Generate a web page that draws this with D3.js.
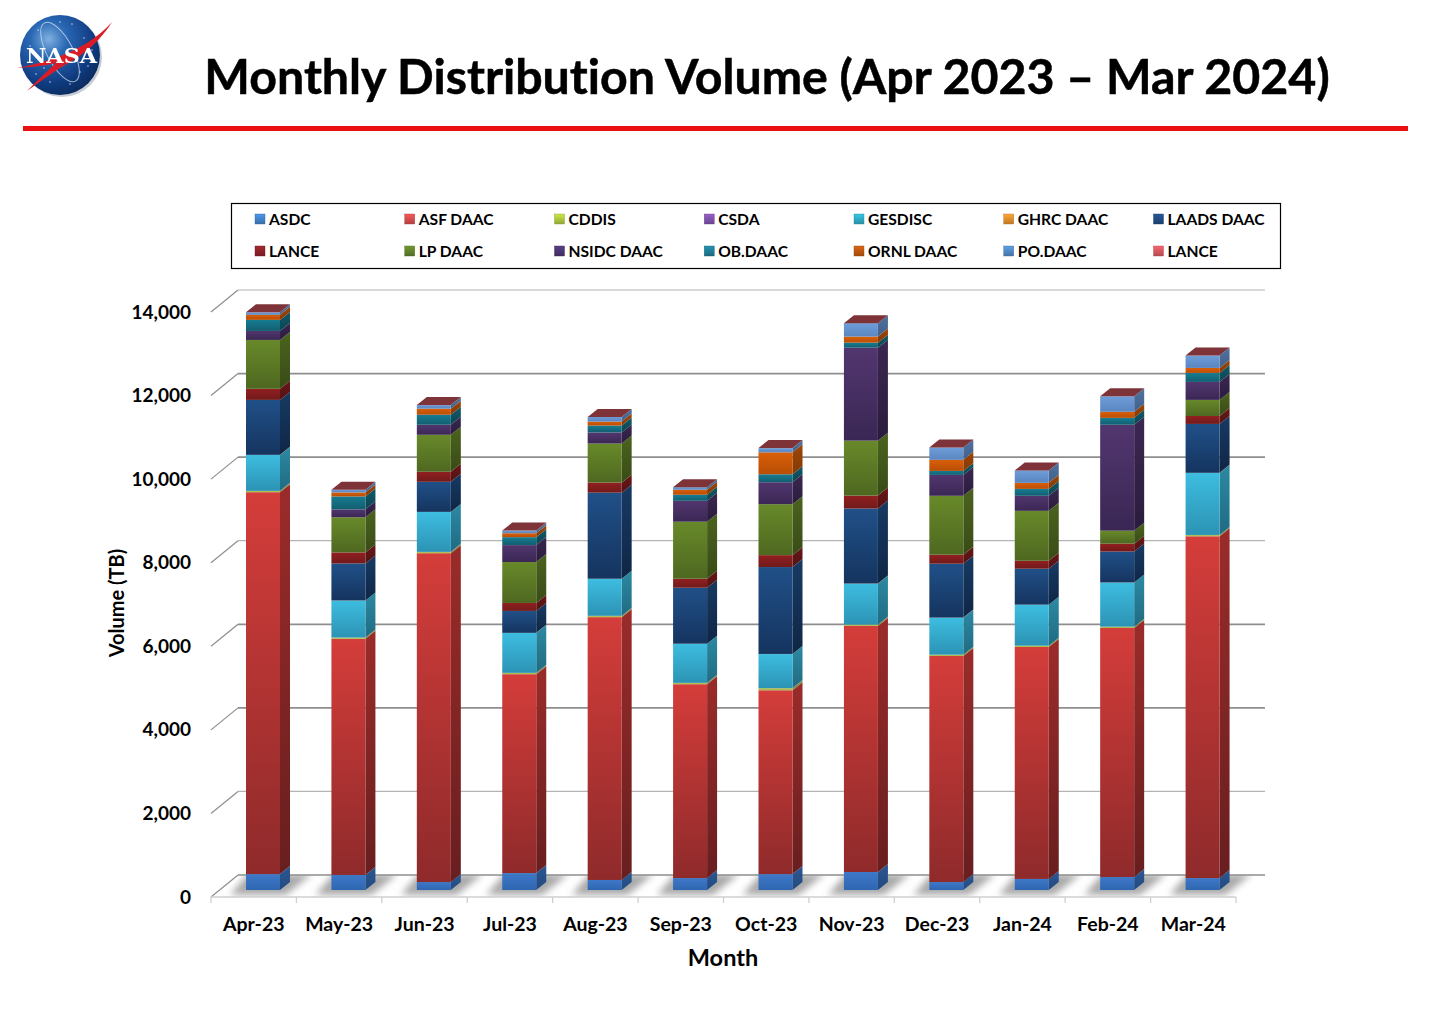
<!DOCTYPE html>
<html><head><meta charset="utf-8">
<script src="https://cdn.jsdelivr.net/npm/d3@7"></script>
<style>html,body{margin:0;padding:0;background:#fff}svg{display:block}text{font-family:Lato,Carlito,sans-serif;font-weight:700;fill:#000;font-variant-ligatures:none}</style>
</head><body><svg id="c" width="1436" height="1019"></svg>
<script>
const months=["Apr-23","May-23","Jun-23","Jul-23","Aug-23","Sep-23","Oct-23","Nov-23","Dec-23","Jan-24","Feb-24","Mar-24"];
const seriesNames=["ASDC","ASF DAAC","CDDIS","CSDA","GESDISC","GHRC DAAC","LAADS DAAC","LANCE","LP DAAC","NSIDC DAAC","OB.DAAC","ORNL DAAC","PO.DAAC","LANCE"];
const asdc=[380,360,190,405,240,285,380,430,190,265,310,285];
const asf=[9140,5650,7870,4760,6290,4640,4400,5890,5410,5550,5960,8180];
const cddis=[30,30,30,30,30,30,50,30,30,30,30,30];
const csda=[2,2,2,2,2,2,2,2,2,2,2,2];
const gesdisc=[860,885,955,955,885,935,815,980,885,980,1055,1485];
const ghrc=[2,2,2,2,2,2,2,2,2,2,2,2];
const laads=[1315,885,720,525,2060,1340,2080,1795,1290,860,740,1170];
const lance=[265,265,240,190,240,215,285,310,215,190,190,190];
const lp=[1170,840,885,980,935,1365,1220,1315,1410,1195,310,385];
const nsidc=[215,190,240,405,265,500,525,2225,500,360,2535,430];
const ob=[265,310,240,190,165,145,190,120,95,165,165,215];
const ornl=[120,95,145,95,95,120,525,145,265,145,145,120];
const po=[60,60,85,60,110,60,100,320,295,295,370,295];
const lance2=[2,2,2,2,2,2,2,2,2,2,2,2];
const yTicks=[0,2000,4000,6000,8000,10000,12000,14000];
const seriesValues=[asdc,asf,cddis,csda,gesdisc,ghrc,laads,lance,lp,nsidc,ob,ornl,po,lance2];
const topColors=["#3d78c8","#d43d3a","#b4c858","#7a55a8","#3dbde0","#ec9432","#205088","#921f20","#68892a","#52366f","#177c92","#d95f08","#6e9dd9","#7d3338"];
const botColors=["#2f66b0","#8f2a2b","#a5b84a","#63448c","#2c93b4","#d57f22","#15345f","#701a1b","#4e6820","#3a2754","#125e70","#b84e05","#5a86c0","#6c2a30"];
const legendColors=["#3f7fc4","#cf4a4a","#a8c23c","#7d50a8","#2ea6c0","#e08a2c","#1f4a80","#8a2226","#5f7f2a","#4a3470","#1f7a92","#b85510","#4f86c0","#d0555c"];

const svg=d3.select("#c"),defs=svg.append("defs");
const dx=10,dy=8,backDy=15,frontDy=7;
const x=d3.scaleBand().domain(months).range([211,1236]);
const y=d3.scaleLinear().domain([0,14000]).range([890,305]);
const barW=34,barOff=35;

/* ---- gradients ---- */
seriesNames.forEach((n,i)=>{
  const g=defs.append("linearGradient").attr("id","f"+i).attr("x1",0).attr("x2",0).attr("y1",0).attr("y2",1);
  g.append("stop").attr("offset",0).attr("stop-color",topColors[i]);
  g.append("stop").attr("offset",1).attr("stop-color",botColors[i]);
  const s=defs.append("linearGradient").attr("id","s"+i).attr("x1",0).attr("x2",0).attr("y1",0).attr("y2",1);
  s.append("stop").attr("offset",0).attr("stop-color",d3.color(topColors[i]).darker(.9));
  s.append("stop").attr("offset",1).attr("stop-color",d3.color(botColors[i]).darker(.9));
  const l=defs.append("linearGradient").attr("id","l"+i).attr("x1",0).attr("x2",0).attr("y1",0).attr("y2",1);
  l.append("stop").attr("offset",0).attr("stop-color",d3.color(legendColors[i]).brighter(.5));
  l.append("stop").attr("offset",1).attr("stop-color",d3.color(legendColors[i]).darker(.4));
});
defs.append("filter").attr("id","blur").attr("x","-30%").attr("y","-60%").attr("width","160%").attr("height","220%")
  .append("feGaussianBlur").attr("stdDeviation",3.5);
defs.append("clipPath").attr("id","floor").append("path").attr("d","M211,897L238,875H1265L1236,897Z");
const rg=defs.append("radialGradient").attr("id","ball").attr("cx","36%").attr("cy","30%").attr("r","75%");
[[0,"#7fb0e0"],[.3,"#2a68b4"],[.7,"#123f86"],[1,"#0a2a5c"]].forEach(s=>rg.append("stop").attr("offset",s[0]).attr("stop-color",s[1]));
defs.append("filter").attr("id","soft").attr("x","-20%").attr("y","-20%").attr("width","140%").attr("height","140%").append("feGaussianBlur").attr("stdDeviation",.6);

/* ---- header ---- */
const logo=svg.append("g").attr("filter","url(#soft)");
logo.append("circle").attr("cx",62).attr("cy",57).attr("r",40).attr("fill","#b0b8c2").attr("opacity",.7);
logo.append("circle").attr("cx",60).attr("cy",55).attr("r",40).attr("fill","url(#ball)");
logo.append("ellipse").attr("cx",60).attr("cy",52).attr("rx",13).attr("ry",33).attr("transform","rotate(-28 60 52)").attr("fill","none").attr("stroke","#cfe0f2").attr("stroke-width",1).attr("opacity",.75);
[[38,30],[72,24],[84,38],[80,72],[88,66],[36,74],[50,82],[70,84],[30,46],[60,22],[92,50],[44,68]].forEach(s=>
  logo.append("circle").attr("cx",s[0]).attr("cy",s[1]).attr("r",.8).attr("fill","#e4eefa").attr("opacity",.8));
logo.append("path").attr("d","M112,22C98,38 78,50 52,59C40,63 28,66 17,68C32,67 44,66 56,63C46,72 36,82 27,91C42,80 56,70 70,62C88,52 102,38 112,22Z").attr("fill","#d91f26");
logo.append("text").attr("x",26).attr("y",63).attr("textLength",71).attr("lengthAdjust","spacingAndGlyphs").style("font-family","'DejaVu Serif'").style("font-size","20px").style("fill","#fff").text("NASA");

svg.append("text").attr("x",767).attr("y",94).attr("text-anchor","middle").style("font-size","48.3px").style("stroke","#000").style("stroke-width",".5px").text("Monthly Distribution Volume (Apr 2023 – Mar 2024)");
svg.append("rect").attr("x",23).attr("y",126).attr("width",1385).attr("height",5).attr("fill","#e9100f");

/* ---- walls and floor ---- */
const wall=svg.append("g");
yTicks.forEach(t=>{
  const light=(t===2000||t===8000||t===14000);
  const col=light?"#b4b4b4":"#8e8e8e",w=light?1.2:1.7;
  wall.append("line").attr("x1",238).attr("x2",1265).attr("y1",y(t)-backDy).attr("y2",y(t)-backDy).attr("stroke",col).attr("stroke-width",w);
  wall.append("line").attr("x1",211).attr("x2",238).attr("y1",y(t)+frontDy).attr("y2",y(t)-backDy).attr("stroke","#8e8e8e").attr("stroke-width",1.2);
});
const shadow=svg.append("g").attr("clip-path","url(#floor)").append("g").attr("filter","url(#blur)");
months.forEach(m=>{
  const a=x(m)+barOff,b=a+barW,f=y(0);
  shadow.append("path").attr("d",`M${a-16},${f+5}L${a+2},${f-16}H${b+dx+22}L${b+6},${f+5}Z`).attr("fill","#8c8c8c").attr("opacity",.75);
});
const ax=svg.append("g");
ax.append("line").attr("x1",211).attr("x2",1236).attr("y1",y(0)+frontDy).attr("y2",y(0)+frontDy).attr("stroke","#cfcfcf").attr("stroke-width",1.3);
d3.range(13).forEach(i=>{
  const px=211+i*x.bandwidth();
  ax.append("line").attr("x1",px).attr("x2",px).attr("y1",y(0)+frontDy).attr("y2",y(0)+frontDy+6).attr("stroke","#cfcfcf").attr("stroke-width",1.3);
});

/* ---- bars ---- */
const rows=months.map((m,i)=>{const o={month:m};seriesNames.forEach((n,k)=>o[k]=seriesValues[k][i]);return o;});
const stack=d3.stack().keys(seriesNames.map((n,k)=>k))(rows);
const bars=svg.append("g");
months.forEach((m,mi)=>{
  const a=x(m)+barOff,b=a+barW,g=bars.append("g");
  stack.forEach((layer,k)=>{
    const y0=y(layer[mi][0]),y1=y(layer[mi][1]);
    g.append("path").attr("d",`M${b},${y0}L${b+dx},${y0-dy}V${y1-dy}L${b},${y1}Z`).attr("fill",`url(#s${k})`);
    g.append("rect").attr("x",a).attr("y",y1).attr("width",barW).attr("height",Math.max(y0-y1,.1)).attr("fill",`url(#f${k})`);
  });
  const t=y(stack[stack.length-1][mi][1]);
  g.append("path").attr("d",`M${a},${t}L${a+dx},${t-dy}H${b+dx}L${b},${t}Z`).attr("fill","#7d3338");
});

/* ---- axes ---- */
const yAxis=d3.axisLeft(y).tickValues(yTicks).tickSize(0).tickPadding(0).tickFormat(d3.format(","));
const yg=svg.append("g").attr("transform","translate(191,7)").call(yAxis);
yg.select(".domain").remove();
yg.selectAll("text").style("font-size","19px");
const xAxis=d3.axisBottom(x).tickSize(0).tickPadding(0);
const xg=svg.append("g").attr("transform","translate(0,917)").call(xAxis);
xg.select(".domain").remove();
xg.selectAll("text").style("font-size","19.5px");
svg.append("text").attr("x",723).attr("y",966).attr("text-anchor","middle").style("font-size","23.5px").text("Month");
svg.append("text").attr("transform","translate(124,603) rotate(-90)").attr("text-anchor","middle").style("font-size","20px").text("Volume (TB)");

/* ---- legend ---- */
svg.append("rect").attr("x",231.5).attr("y",203.5).attr("width",1049).attr("height",65).attr("fill","#fff").attr("stroke","#000").attr("stroke-width",1.2);
const colX=d3.scalePoint().domain(d3.range(7)).range([255,1153.5]);
seriesNames.forEach((n,i)=>{
  const cx=colX(i%7),cy=i<7?219:251;
  svg.append("rect").attr("x",cx).attr("y",cy-5).attr("width",10).attr("height",10).attr("fill",`url(#l${i})`).attr("stroke",d3.color(legendColors[i]).darker(.6)).attr("stroke-width",.4);
  svg.append("text").attr("x",cx+14).attr("y",cy+6).style("font-size","15.6px").text(n);
});
</script></body></html>
